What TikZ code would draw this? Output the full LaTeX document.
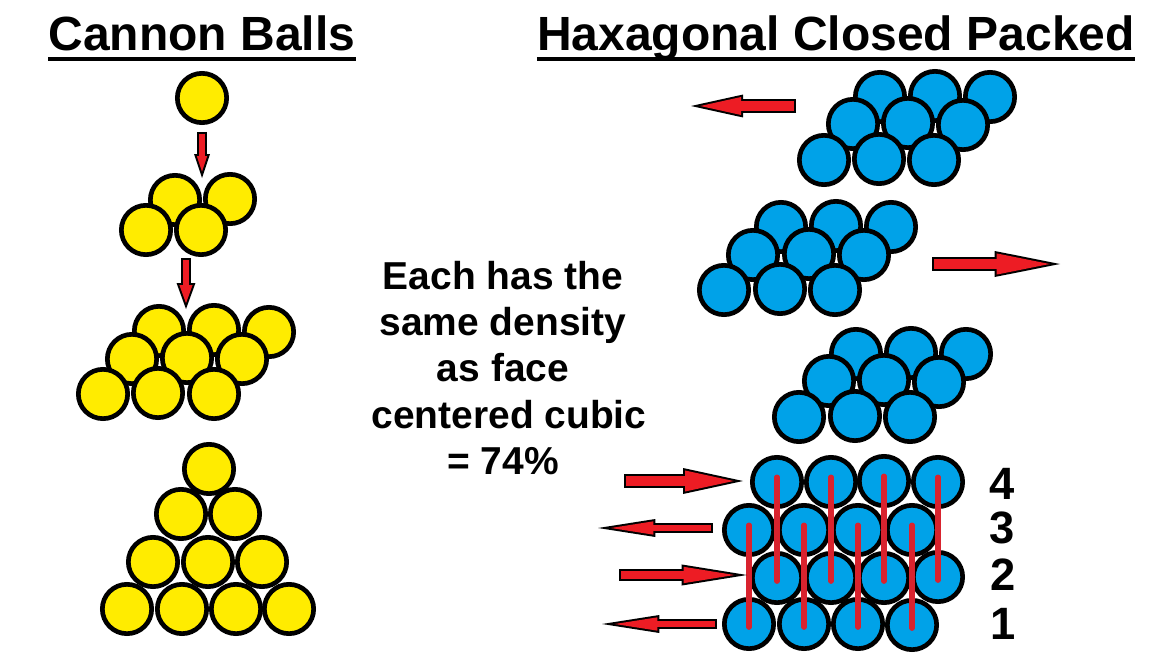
\documentclass[tikz,border=0pt]{standalone}
\usepackage{fontspec}
\setmainfont{Liberation Sans}
\usetikzlibrary{arrows.meta}
\definecolor{ballyellow}{HTML}{FFEC00}
\definecolor{ballblue}{HTML}{00A2E8}
\definecolor{arrowred}{HTML}{ED1C24}
\definecolor{barred}{HTML}{D9232E}

\begin{document}
\begin{tikzpicture}[
  x=0.75pt, y=-0.75pt,
  ball/.style={circle, draw=black, line width=3.5pt, minimum size=37pt, inner sep=0pt, outer sep=0pt},
  yball/.style={ball, fill=ballyellow},
  bball/.style={ball, fill=ballblue},
  title/.style={font=\fontsize{36}{36}\selectfont\bfseries, inner sep=0pt, anchor=base},
  ul/.style={line width=3.6pt},
  note/.style={font=\fontsize{29.2}{34.6}\selectfont\bfseries, align=center, inner sep=0pt},
  num/.style={font=\fontsize{34}{34}\selectfont\bfseries, inner sep=0pt},
  bar/.style={draw=barred, line width=4pt, line cap=round, shorten <=-3.6pt, shorten >=-2.4pt},
  % shaft width, head width, head length, all outer sizes
  arr/.code n args={3}{
    \pgfmathsetlengthmacro\tipshift{1.5pt*sqrt((#2/2)^2+(#3)^2)/(#2/2)}
    \pgfmathsetlengthmacro\redlen{#3-\tipshift-1.5pt}
    \pgfmathsetlengthmacro\redwid{#2*\redlen/(#3)}
    \pgfmathsetlengthmacro\redshaft{#1-3pt}
    \tikzset{
      draw=black, line width=#1,
      -{Triangle[length=#3, width=#2, line width=0pt]},
      postaction={draw=arrowred, line width=\redshaft,
        shorten <=1.5pt, shorten >=\tipshift,
        -{Triangle[length=\redlen, width=\redwid, line width=0pt]}},
    }
  },
]
  \useasboundingbox (0,0) rectangle (1154,660);

  \node[title] (leftttl)  at (202,51) {Cannon Balls};
  \node[title] (rightttl) at (836,51) {Haxagonal Closed Packed};
  \draw[ul] ([yshift=-6pt]leftttl.base west) -- ([yshift=-6pt]leftttl.base east);
  \draw[ul] ([yshift=-6pt]rightttl.base west) -- ([yshift=-6pt]rightttl.base east);

  % cannon balls
  \node[yball] (ya) at (202,98) {};

  \node[yball] (yb1) at (175,200) {};
  \node[yball] (yb2) at (230,199) {};
  \node[yball] (yb3) at (146,230) {};
  \node[yball] (yb4) at (201,230) {};

  \node[yball] (yc1) at (159,331) {};
  \node[yball] (yc2) at (214,330) {};
  \node[yball] (yc3) at (269,332) {};
  \node[yball] (yc4) at (132,359) {};
  \node[yball] (yc5) at (187,358) {};
  \node[yball] (yc6) at (242,359) {};
  \node[yball] (yc7) at (103,394) {};
  \node[yball] (yc8) at (158,393) {};
  \node[yball] (yc9) at (214,394) {};

  \node[yball] (yd1)  at (209,469) {};
  \node[yball] (yd2)  at (181,514) {};
  \node[yball] (yd3)  at (235,514) {};
  \node[yball] (yd4)  at (153,562) {};
  \node[yball] (yd5)  at (208,562) {};
  \node[yball] (yd6)  at (262,562) {};
  \node[yball] (yd7)  at (127,609) {};
  \node[yball] (yd8)  at (182,609) {};
  \node[yball] (yd9)  at (236,609) {};
  \node[yball] (yd10) at (289,609) {};

  \coordinate (yaout) at (202,132);
  \coordinate (yain)  at (202,178);
  \coordinate (ybout) at (186,258);
  \coordinate (ybin)  at (186,309);
  \draw[arr={6.8pt}{12pt}{18pt}] (yaout) -- (yain);
  \draw[arr={8.2pt}{14.2pt}{19.5pt}] (ybout) -- (ybin);

  \node[note] (density) at (503,368) {Each has the\\same density\\as face\\\hspace*{9pt}centered cubic\\= 74\%};

  % layers pulled apart
  \node[bball] (ba1) at (880,97) {};
  \node[bball] (ba2) at (935,96) {};
  \node[bball] (ba3) at (990,97) {};
  \node[bball] (ba4) at (853,124) {};
  \node[bball] (ba5) at (908,123) {};
  \node[bball] (ba6) at (963,125) {};
  \node[bball] (ba7) at (824,160) {};
  \node[bball] (ba8) at (879,159) {};
  \node[bball] (ba9) at (934,160) {};

  \node[bball] (bb1) at (781,227) {};
  \node[bball] (bb2) at (836,226) {};
  \node[bball] (bb3) at (891,227) {};
  \node[bball] (bb4) at (753,255) {};
  \node[bball] (bb5) at (809,254) {};
  \node[bball] (bb6) at (864,255) {};
  \node[bball] (bb7) at (724,290) {};
  \node[bball] (bb8) at (780,289) {};
  \node[bball] (bb9) at (835,290) {};

  \node[bball] (bc1) at (856,354) {};
  \node[bball] (bc2) at (911,353) {};
  \node[bball] (bc3) at (966,354) {};
  \node[bball] (bc4) at (829,381) {};
  \node[bball] (bc5) at (884,380) {};
  \node[bball] (bc6) at (939,382) {};
  \node[bball] (bc7) at (799,417) {};
  \node[bball] (bc8) at (855,416) {};
  \node[bball] (bc9) at (910,417) {};

  % stacked rows, top to bottom
  \node[bball] (r4a) at (777,482) {};
  \node[bball] (r4b) at (831,482) {};
  \node[bball] (r4c) at (884,481) {};
  \node[bball] (r4d) at (938,482) {};
  \node[bball] (r3a) at (749,530) {};
  \node[bball] (r3b) at (804,530) {};
  \node[bball] (r3c) at (858,530) {};
  \node[bball] (r3d) at (912,530) {};
  \node[bball] (r2a) at (777,578) {};
  \node[bball] (r2b) at (831,578) {};
  \node[bball] (r2c) at (884,578) {};
  \node[bball] (r2d) at (938,577) {};
  \node[bball] (r1a) at (749,624) {};
  \node[bball] (r1b) at (804,624) {};
  \node[bball] (r1c) at (858,624) {};
  \node[bball] (r1d) at (912,625) {};

  \draw[bar] (r4a.center) -- (r2a.center);
  \draw[bar] (r4b.center) -- (r2b.center);
  \draw[bar] (r4c.center) -- (r2c.center);
  \draw[bar] (r4d.center) -- (r2d.center);
  \draw[bar] (r3a.center) -- (r1a.center);
  \draw[bar] (r3b.center) -- (r1b.center);
  \draw[bar] (r3c.center) -- (r1c.center);
  \draw[bar] (r3d.center) -- (r1d.center);

  \node[num] (n4) at (1002,484) {4};
  \node[num] (n3) at (1002,528) {3};
  \node[num] (n2) at (1003,575) {2};
  \node[num] (n1) at (1003,624) {1};

  \coordinate (aout) at (796,106);
  \coordinate (ain)  at (691,106);
  \coordinate (bout) at (932,264);
  \coordinate (bin)  at (1060,264);
  \coordinate (cout) at (624,481);
  \coordinate (cin)  at (743,481);
  \coordinate (dout) at (713,528);
  \coordinate (din)  at (598,528);
  \coordinate (eout) at (619,575);
  \coordinate (ein)  at (747,575);
  \coordinate (fout) at (717,624);
  \coordinate (fin)  at (602,624);
  \draw[arr={9.8pt}{17.2pt}{39pt}] (aout) -- (ain);
  \draw[arr={9.8pt}{19.5pt}{49pt}] (bout) -- (bin);
  \draw[arr={10.8pt}{19.5pt}{45pt}] (cout) -- (cin);
  \draw[arr={7pt}{13.5pt}{43pt}] (dout) -- (din);
  \draw[arr={9pt}{15.8pt}{49pt}] (eout) -- (ein);
  \draw[arr={8.2pt}{13.5pt}{43pt}] (fout) -- (fin);
\end{tikzpicture}
\end{document}
